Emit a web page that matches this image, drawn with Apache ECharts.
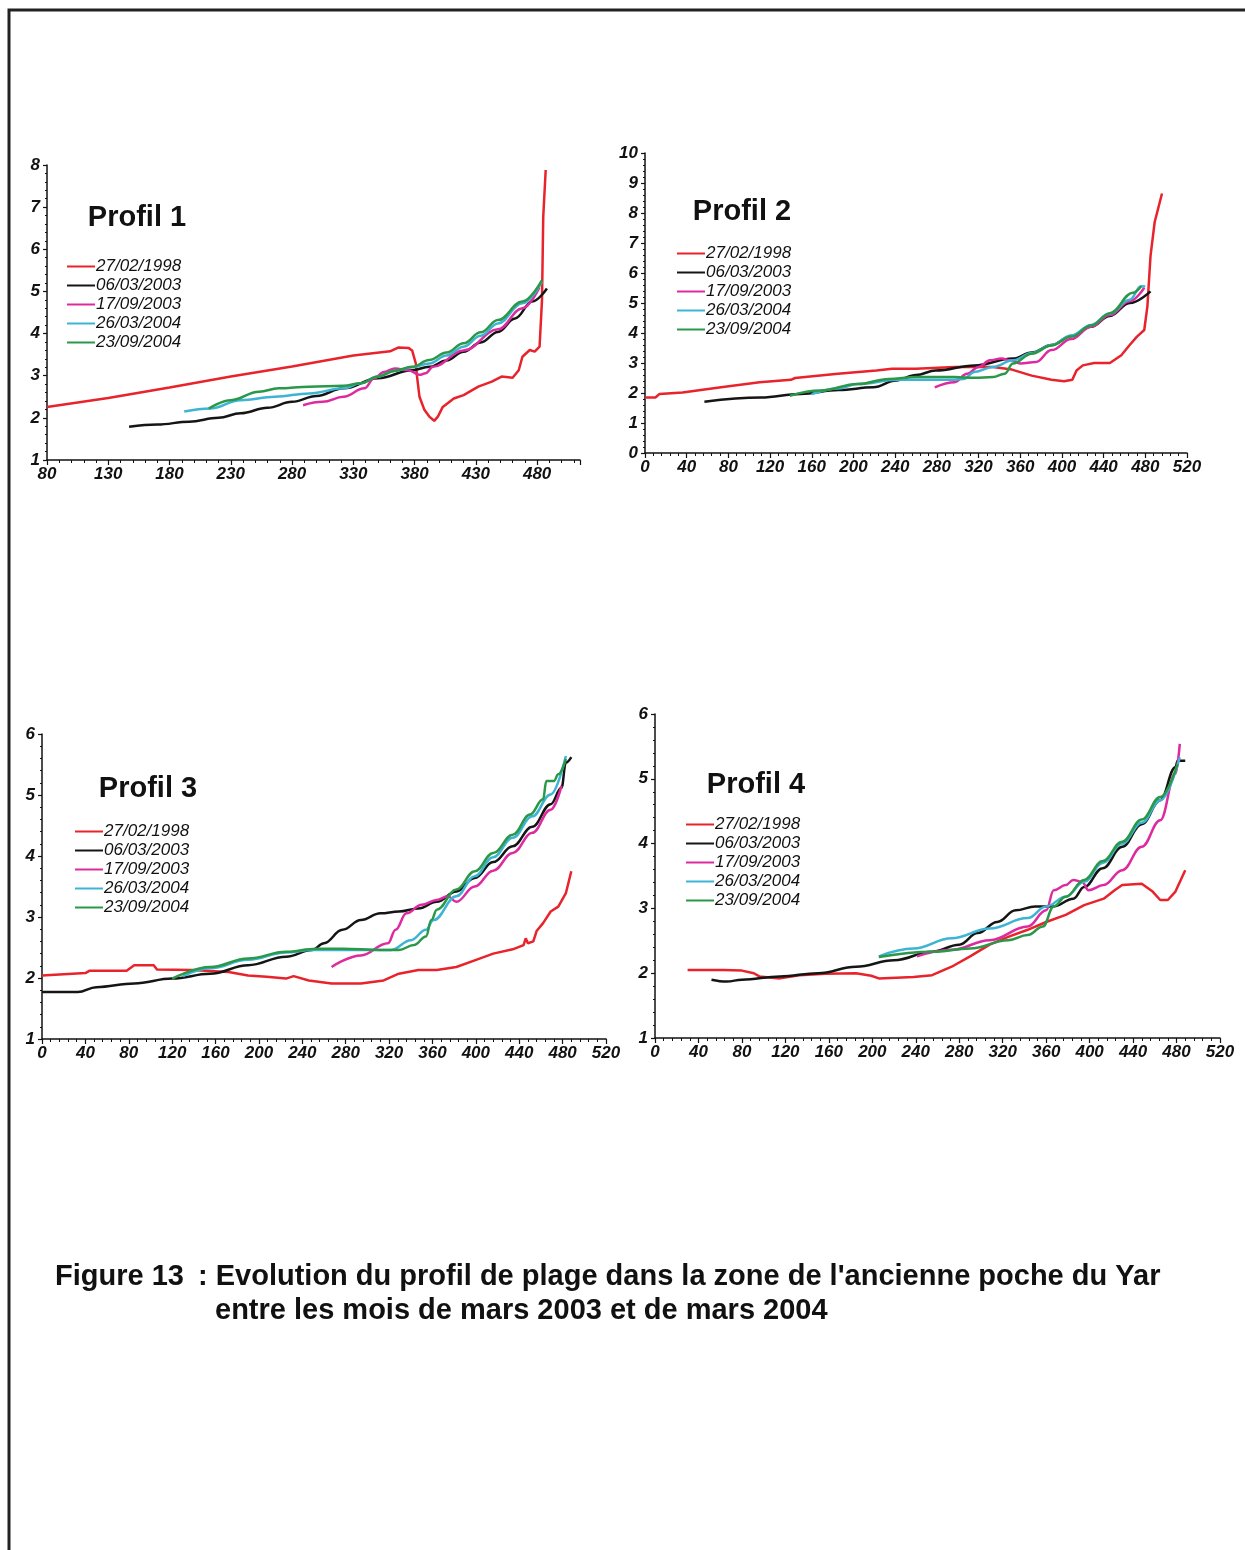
<!DOCTYPE html>
<html>
<head>
<meta charset="utf-8">
<script src="https://cdn.jsdelivr.net/npm/echarts@6/dist/echarts.min.js"></script>
<style>
  html, body { margin: 0; padding: 0; background: #fff; }
  #chart { width: 1245px; height: 1550px; }
</style>
</head>
<body>
<div id="chart"></div>
<script>
// dates of the surveys (legend)
const dates = ['27/02/1998', '06/03/2003', '17/09/2003', '26/03/2004', '23/09/2004'];

// tick labels
const p1XTicks = [80, 130, 180, 230, 280, 330, 380, 430, 480];
const p1YTicks = [1, 2, 3, 4, 5, 6, 7, 8];
const p2XTicks = [0, 40, 80, 120, 160, 200, 240, 280, 320, 360, 400, 440, 480, 520];
const p2YTicks = [0, 1, 2, 3, 4, 5, 6, 7, 8, 9, 10];
const p34XTicks = [0, 40, 80, 120, 160, 200, 240, 280, 320, 360, 400, 440, 480, 520];
const p34YTicks = [1, 2, 3, 4, 5, 6];

// Profil 1  [distance, altitude]
const p1_1998 = [[80,2.26],[130,2.47],[180,2.72],[230,2.98],[280,3.22],[330,3.48],[360,3.58],[367,3.67],[375,3.66],[378,3.6],[381,3.29],[382,2.98],[384,2.5],[388,2.19],[392,2.03],[396,1.93],[399,2.03],[403,2.26],[412,2.46],[420,2.54],[432,2.74],[443,2.86],[451,2.98],[460,2.95],[465,3.13],[468,3.45],[474,3.61],[478,3.57],[482,3.69],[484,4.8],[485,6.77],[487,7.88]];
const p1_2003a = [[147,1.79],[170,1.84],[196,1.91],[220,2.0],[238,2.11],[260,2.24],[280,2.38],[300,2.52],[322,2.7],[350,2.94],[378,3.13],[392,3.21],[406,3.36],[420,3.57],[434,3.79],[448,4.04],[462,4.36],[476,4.76],[488,5.07]];
const p1_2003b = [[289,2.3],[305,2.38],[322,2.5],[339,2.7],[347,2.94],[355,3.09],[364,3.17],[375,3.13],[384,3.02],[389,3.06],[395,3.21],[420,3.6],[448,4.1],[468,4.6],[482,5.1]];
const p1_2004a = [[192,2.15],[213,2.22],[238,2.42],[266,2.5],[294,2.58],[322,2.7],[336,2.82],[350,2.98],[364,3.12],[378,3.2],[392,3.29],[406,3.48],[420,3.69],[434,3.95],[448,4.24],[468,4.72],[484,5.23]];
const p1_2004b = [[212,2.22],[230,2.42],[253,2.62],[269,2.7],[294,2.74],[322,2.76],[336,2.82],[350,2.98],[364,3.12],[378,3.21],[392,3.37],[406,3.55],[420,3.77],[434,4.03],[448,4.32],[468,4.76],[484,5.27]];

// Profil 2
const p2_1998 = [[0,1.85],[10,1.85],[14,1.97],[36,2.02],[73,2.19],[110,2.36],[140,2.44],[144,2.5],[185,2.64],[222,2.75],[237,2.81],[260,2.81],[297,2.87],[334,2.87],[352,2.78],[371,2.58],[390,2.44],[402,2.39],[410,2.44],[414,2.75],[420,2.92],[431,3.0],[446,3.0],[457,3.26],[465,3.6],[472,3.88],[479,4.1],[482,4.89],[485,6.57],[489,7.7],[496,8.65]];
const p2_2003a = [[57,1.71],[111,1.85],[149,1.97],[186,2.1],[219,2.19],[241,2.42],[260,2.6],[279,2.75],[316,2.92],[353,3.15],[371,3.35],[390,3.6],[409,3.9],[428,4.21],[446,4.57],[465,5.0],[485,5.39]];
const p2_2003b = [[278,2.19],[297,2.36],[309,2.64],[320,2.87],[331,3.09],[342,3.15],[351,3.09],[360,2.98],[375,3.03],[390,3.43],[409,3.8],[428,4.21],[446,4.6],[465,5.06],[479,5.51]];
const p2_2004a = [[160,1.96],[185,2.15],[204,2.3],[242,2.44],[297,2.44],[306,2.47],[316,2.7],[334,2.87],[353,3.09],[371,3.33],[390,3.6],[409,3.92],[428,4.27],[446,4.65],[465,5.11],[476,5.56],[480,5.55]];
const p2_2004b = [[139,1.91],[168,2.08],[204,2.3],[234,2.47],[260,2.53],[297,2.53],[316,2.51],[334,2.53],[345,2.64],[353,2.98],[371,3.31],[390,3.58],[409,3.88],[428,4.25],[446,4.66],[468,5.34],[476,5.56]];

// Profil 3
const p3_1998 = [[0,2.04],[40,2.08],[44,2.12],[78,2.12],[85,2.21],[103,2.21],[106,2.14],[138,2.13],[172,2.1],[190,2.04],[207,2.02],[225,1.99],[232,2.03],[246,1.96],[267,1.91],[294,1.91],[315,1.96],[329,2.07],[347,2.13],[364,2.13],[382,2.18],[399,2.29],[416,2.4],[434,2.47],[444,2.54],[446,2.65],[448,2.57],[453,2.6],[456,2.77],[462,2.9],[469,3.09],[476,3.17],[483,3.39],[488,3.75]];
const p3_2003a = [[0,1.77],[33,1.77],[50,1.85],[85,1.91],[120,1.99],[155,2.07],[190,2.21],[225,2.35],[249,2.46],[260,2.57],[277,2.79],[294,2.95],[312,3.06],[329,3.09],[347,3.14],[364,3.25],[382,3.42],[399,3.64],[416,3.9],[434,4.16],[452,4.48],[469,4.85],[479,5.12],[483,5.53],[488,5.62]];
const p3_2003b = [[267,2.18],[294,2.37],[319,2.57],[326,2.79],[336,3.06],[350,3.2],[364,3.28],[374,3.34],[382,3.25],[399,3.5],[416,3.76],[434,4.05],[452,4.38],[469,4.76],[479,5.15]];
const p3_2004a = [[130,2.03],[155,2.16],[190,2.3],[225,2.42],[249,2.46],[294,2.46],[322,2.46],[340,2.62],[354,2.79],[361,2.95],[382,3.34],[399,3.67],[416,3.98],[434,4.3],[452,4.65],[469,5.01],[483,5.64]];
const p3_2004b = [[120,1.99],[155,2.18],[190,2.32],[225,2.43],[253,2.48],[277,2.48],[312,2.46],[329,2.46],[343,2.54],[354,2.68],[359,2.95],[364,3.12],[382,3.45],[399,3.75],[416,4.05],[434,4.35],[450,4.68],[462,4.93],[465,5.23],[472,5.23],[476,5.34],[483,5.59]];

// Profil 4
const p4_1998 = [[30,2.05],[63,2.05],[80,2.04],[91,2.0],[96,1.95],[115,1.92],[133,1.97],[157,1.99],[185,2.0],[199,1.96],[206,1.92],[238,1.94],[255,1.97],[273,2.1],[290,2.26],[308,2.44],[325,2.56],[343,2.67],[360,2.79],[378,2.9],[395,3.05],[413,3.15],[423,3.28],[430,3.36],[448,3.38],[458,3.26],[465,3.13],[472,3.13],[479,3.26],[488,3.59]];
const p4_2003a = [[52,1.9],[66,1.87],[80,1.9],[115,1.95],[150,2.0],[185,2.1],[220,2.2],[255,2.33],[280,2.44],[297,2.62],[315,2.79],[332,2.97],[350,3.03],[367,3.03],[385,3.15],[395,3.33],[412,3.62],[430,3.95],[448,4.3],[465,4.67],[479,5.18],[481,5.28],[488,5.28]];
const p4_2003b = [[241,2.26],[273,2.36],[308,2.51],[343,2.72],[360,2.97],[367,3.28],[378,3.36],[385,3.44],[393,3.41],[399,3.28],[413,3.36],[430,3.59],[448,3.95],[465,4.36],[479,5.08],[483,5.54]];
const p4_2004a = [[206,2.26],[238,2.38],[273,2.54],[308,2.69],[343,2.85],[360,3.03],[378,3.18],[395,3.41],[412,3.7],[430,4.0],[448,4.32],[465,4.67],[483,5.33]];
const p4_2004b = [[206,2.25],[255,2.33],[290,2.38],[325,2.51],[343,2.59],[357,2.72],[367,3.03],[378,3.18],[395,3.44],[412,3.73],[430,4.03],[448,4.37],[465,4.72],[481,5.23]];

const colors = ['#e8232b', '#151515', '#dd2a9e', '#3db4d3', '#2a9848'];
const FONT = 'Liberation Sans, Arial, sans-serif';

let chart = echarts.init(document.getElementById('chart'), null, { renderer: 'canvas' });

function xAxis(idx, min, max, step, ticks) {
  return {
    gridIndex: idx, type: 'value', min: min, max: max, interval: step,
    axisLine: { show: true, onZero: false, lineStyle: { color: '#111', width: 1.5 } },
    axisTick: { show: true, length: 5, lineStyle: { color: '#111', width: 1.2 } },
    minorTick: { show: true, splitNumber: 5, length: 3, lineStyle: { color: '#111' } },
    splitLine: { show: false },
    axisLabel: {
      margin: 6, color: '#111', fontFamily: FONT, fontSize: 17, fontWeight: 'bold', fontStyle: 'italic',
      formatter: function (v) { return ticks.includes(v) ? String(v) : ''; }
    }
  };
}
function yAxis(idx, min, max, ticks) {
  return {
    gridIndex: idx, type: 'value', min: min, max: max, interval: 1,
    axisLine: { show: true, onZero: false, lineStyle: { color: '#111', width: 1.5 } },
    axisTick: { show: true, length: 4, lineStyle: { color: '#111', width: 1.2 } },
    minorTick: { show: true, splitNumber: 5, length: 2, lineStyle: { color: '#111' } },
    splitLine: { show: false },
    axisLabel: {
      margin: 7, color: '#111', fontFamily: FONT, fontSize: 17, fontWeight: 'bold', fontStyle: 'italic',
      formatter: function (v) { return ticks.includes(v) ? String(v) : ''; }
    }
  };
}

const panels = [
  [p1_1998, p1_2003a, p1_2003b, p1_2004a, p1_2004b],
  [p2_1998, p2_2003a, p2_2003b, p2_2004a, p2_2004b],
  [p3_1998, p3_2003a, p3_2003b, p3_2004a, p3_2004b],
  [p4_1998, p4_2003a, p4_2003b, p4_2004a, p4_2004b]
];

let series = [];
panels.forEach(function (sets, g) {
  sets.forEach(function (d, i) {
    series.push({
      type: 'line', name: dates[i], xAxisIndex: g, yAxisIndex: g,
      data: d, showSymbol: false, symbol: 'none',
      smooth: i === 0 ? false : 0.4, smoothMonotone: 'x',
      lineStyle: { color: colors[i], width: 2.5 },
      itemStyle: { color: colors[i] },
      z: 2 + i, animation: false
    });
  });
});

function legend(left, top) {
  return {
    data: dates, orient: 'vertical', left: left, top: top, padding: 0,
    icon: 'rect', itemWidth: 28, itemHeight: 2, itemGap: 2,
    selectedMode: false,
    textStyle: { fontFamily: FONT, fontSize: 17, fontStyle: 'italic', color: '#111', lineHeight: 16, padding: [0, 0, 0, -4] }
  };
}

function label(x, y, text, size, align) {
  return {
    type: 'text', x: x, y: y,
    style: { text: text, fontFamily: FONT, fontSize: size, fontWeight: 'bold', fill: '#111', align: align || 'center', verticalAlign: 'middle' }
  };
}

let option = {
  backgroundColor: '#fff',
  animation: false,
  grid: [
    { left: 47, top: 165, width: 533, height: 295 },
    { left: 645, top: 153, width: 542, height: 300 },
    { left: 42, top: 734, width: 564, height: 305 },
    { left: 655, top: 714, width: 565, height: 324 }
  ],
  xAxis: [
    xAxis(0, 80, 515, 50, p1XTicks),
    xAxis(1, 0, 520, 40, p2XTicks),
    xAxis(2, 0, 520, 40, p34XTicks),
    xAxis(3, 0, 520, 40, p34XTicks)
  ],
  yAxis: [
    yAxis(0, 1, 8, p1YTicks),
    yAxis(1, 0, 10, p2YTicks),
    yAxis(2, 1, 6, p34YTicks),
    yAxis(3, 1, 6, p34YTicks)
  ],
  legend: [legend(67, 258), legend(677, 245), legend(75, 823), legend(686, 816)],
  series: series,
  graphic: [
    { type: 'polyline', shape: { points: [[9, 1550], [9, 10], [1245, 10]] }, style: { stroke: '#222', lineWidth: 3, fill: null } },
    label(137, 218, 'Profil 1', 29),
    label(742, 212, 'Profil 2', 29),
    label(148, 789, 'Profil 3', 29),
    label(756, 785, 'Profil 4', 29),
    label(55, 1277, 'Figure 13', 29, 'left'),
    label(198, 1277, ": Evolution du profil de plage dans la zone de l'ancienne poche du Yar", 29, 'left'),
    label(215, 1311, 'entre les mois de mars 2003 et de mars 2004', 29, 'left')
  ]
};

chart.setOption(option);
</script>
</body>
</html>
